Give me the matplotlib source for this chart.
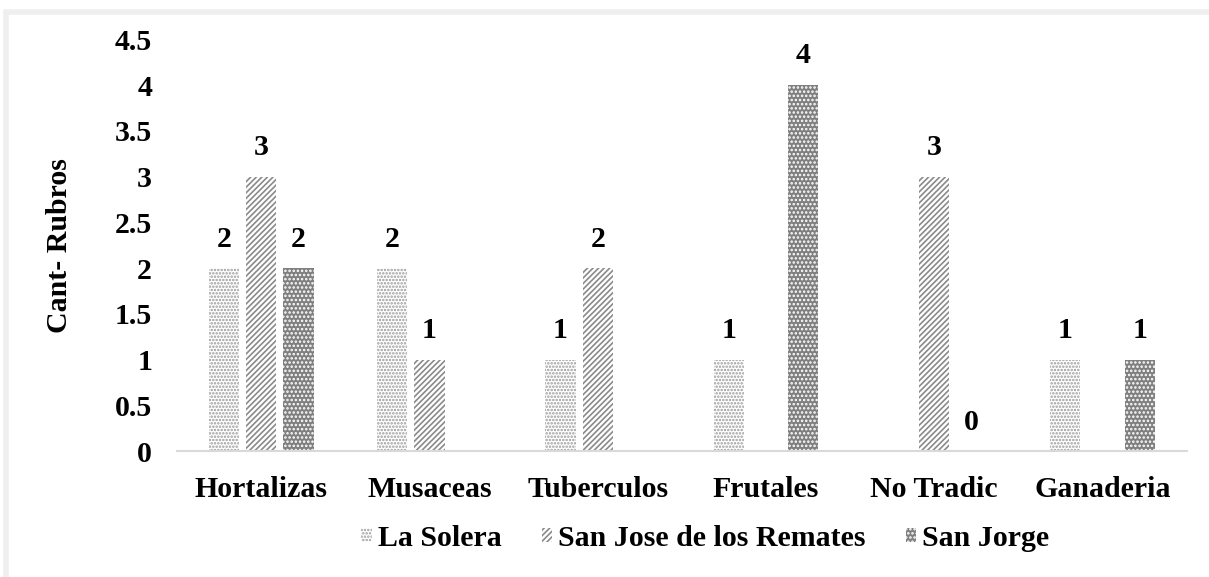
import numpy as np
import matplotlib.pyplot as plt
from matplotlib.patches import Rectangle

plt.rcParams['font.family'] = ['Liberation Serif', 'DejaVu Serif']
plt.rcParams['font.weight'] = 'bold'
plt.rcParams['hatch.linewidth'] = 1.2

# Data
categorias = ['Hortalizas', 'Musaceas', 'Tuberculos', 'Frutales', 'No Tradic', 'Ganaderia']
la_solera = [2, 2, 1, 1, None, 1]
san_jose = [3, 1, 2, None, 3, None]
san_jorge = [2, None, None, 4, 0, 1]
series_names = ['La Solera', 'San Jose de los Remates', 'San Jorge']

FS = 21.5

fig = plt.figure(figsize=(12.09, 5.77), dpi=100)
fig.patches.append(Rectangle((0.005, -0.1), 1.2, 1.08, transform=fig.transFigure,
                             fill=False, edgecolor='#efefef', linewidth=4))
ax = fig.add_axes([0.1465, 0.218, 0.835, 0.714])

x = np.arange(len(categorias))
w = 0.18
off = 0.222

styles = [
    dict(facecolor='white', edgecolor='#9a9a9a', hatch='.....'),
    dict(facecolor='white', edgecolor='#8a8a8a', hatch='//////'),
    dict(facecolor='#7f7f7f', edgecolor='white', hatch='....'),
]

for i, (vals, name) in enumerate(zip([la_solera, san_jose, san_jorge], series_names)):
    xs = [xi + (i - 1) * off for xi, v in zip(x, vals) if v is not None]
    ys = [v for v in vals if v is not None]
    ax.bar(xs, ys, width=w, linewidth=0, label=name, **styles[i])
    for xi, v in zip(xs, ys):
        ax.text(xi, v + 0.17, str(v), ha='center', va='bottom', fontsize=FS, fontweight='bold')

ax.set_xlim(-0.5, len(categorias) - 0.5)
ax.set_ylim(0, 4.5)
ax.set_yticks(np.arange(0, 4.51, 0.5))
ax.set_yticklabels(['0', '0.5', '1', '1.5', '2', '2.5', '3', '3.5', '4', '4.5'])
ax.set_xticks(x)
ax.set_xticklabels(categorias)
ax.tick_params(axis='both', length=0, labelsize=FS)
ax.tick_params(axis='y', pad=18)
ax.tick_params(axis='x', pad=18)
for t in ax.get_xticklabels() + ax.get_yticklabels():
    t.set_fontweight('bold')
for s in ['top', 'right', 'left']:
    ax.spines[s].set_visible(False)
ax.spines['bottom'].set_color('#d9d9d9')
ax.spines['bottom'].set_linewidth(1.5)

ax.set_ylabel('Cant- Rubros', fontsize=FS, fontweight='bold', labelpad=30)

leg = ax.legend(loc='center', bbox_to_anchor=(0.523, -0.211), ncol=3, frameon=False,
                handlelength=0.34, handleheight=0.34, handletextpad=0.2,
                columnspacing=1.35, borderaxespad=0, borderpad=0,
                prop={'weight': 'bold', 'size': FS})

fig.savefig('out.png', dpi=100)
